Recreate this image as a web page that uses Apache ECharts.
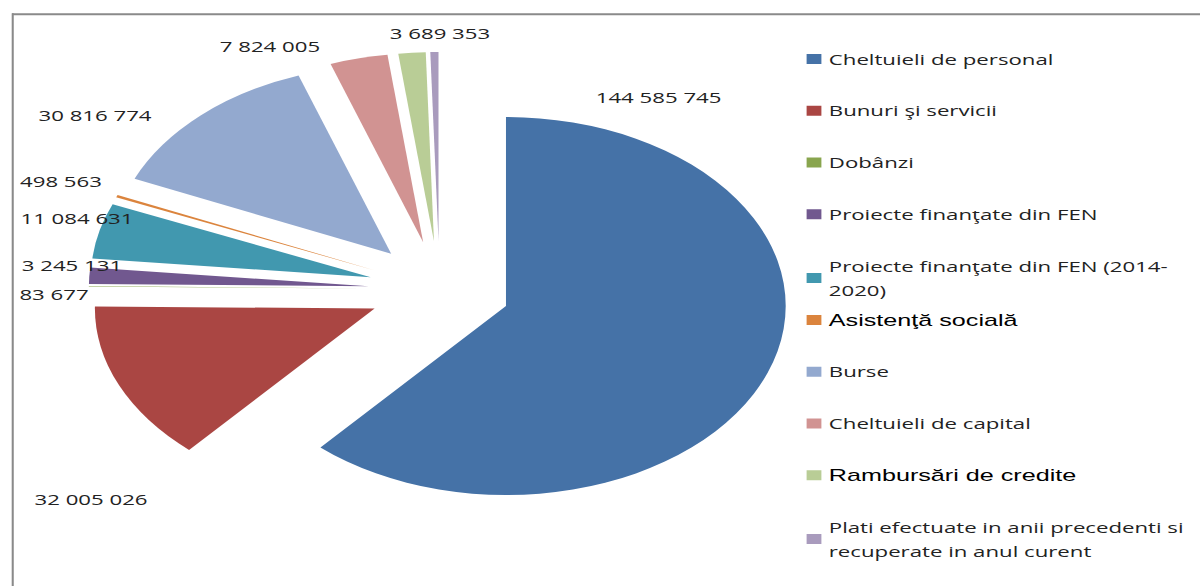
<!DOCTYPE html>
<html>
<head>
<meta charset="utf-8">
<script src="https://cdn.jsdelivr.net/npm/echarts@6/dist/echarts.min.js"></script>
<style>
html,body{margin:0;padding:0;background:#fff;overflow:hidden;width:1200px;height:586px;}
#c{width:811px;height:586px;transform:scaleX(1.48);transform-origin:0 0;}
</style>
</head>
<body>
<div id="c"></div>
<script>
const categories = [
  'Cheltuieli de personal',
  'Bunuri şi servicii',
  'Dobânzi',
  'Proiecte finanţate din FEN',
  'Proiecte finanţate din FEN (2014-2020)',
  'Asistenţă socială',
  'Burse',
  'Cheltuieli de capital',
  'Rambursări de credite',
  'Plati efectuate in anii precedenti si recuperate in anul curent'
];
const values = [144585745, 32005026, 83677, 3245131, 11084631, 498563, 30816774, 7824005, 3689353, 1100000];
const showValueLabel = [true, true, true, true, true, true, true, true, true, false];
const colors = ['#4572A7', '#AA4643', '#89A54E', '#71588F', '#4198AF', '#DB843D', '#93A9CF', '#D19392', '#B9CD96', '#A99BBD'];

// label anchor spots (chart coords, before horizontal stretch)
const labelSpots = [[445, 97], [61.5, 499], [36.5, 294], [48.6, 265], [52, 218], [41.2, 181], [64.2, 115], [182.4, 46], [297.3, 33], null];

function fmt(v) {
  return String(v).replace(/\B(?=(\d{3})+(?!\d))/g, ' ');
}
const legendWrap = {
  'Proiecte finanţate din FEN (2014-2020)': 'Proiecte finanţate din FEN (2014-\n2020)',
  'Plati efectuate in anii precedenti si recuperate in anul curent': 'Plati efectuate in anii precedenti si\nrecuperate in anul curent'
};
const arialItems = ['Asistenţă socială', 'Rambursări de credite'];
function legendFormatter(name) {
  if (arialItems.indexOf(name) >= 0) return '{a|' + name + '}';
  return legendWrap[name] || name;
}
const legendBase = {
  orient: 'vertical',
  left: 545,
  padding: 0,
  itemGap: 27.75,
  itemWidth: 10,
  itemHeight: 10,
  icon: 'rect',
  selectedMode: false,
  formatter: legendFormatter,
  textStyle: {
    fontFamily: 'Open Sans',
    fontSize: 15,
    color: '#222',
    lineHeight: 24,
    rich: {
      a: { fontFamily: 'Liberation Sans', fontSize: 17, color: '#000', lineHeight: 24 }
    }
  }
};

const chart = echarts.init(document.getElementById('c'), null, { renderer: 'svg' });
chart.setOption({
  animation: false,
  color: colors,
  graphic: [
    { type: 'line', shape: { x1: 8.1, y1: 14.3, x2: 811, y2: 14.3 }, style: { stroke: '#8a8a8a', lineWidth: 2 } },
    { type: 'line', shape: { x1: 8.6, y1: 13.3, x2: 8.6, y2: 586 }, style: { stroke: '#8a8a8a', lineWidth: 1.4 } }
  ],
  legend: [
    Object.assign({}, legendBase, { top: 47, data: categories.slice(0, 5) }),
    Object.assign({}, legendBase, { top: 308, data: categories.slice(5) })
  ],
  series: [{
    type: 'pie',
    center: [297, 289],
    radius: 189,
    startAngle: 90,
    clockwise: true,
    selectedMode: 'multiple',
    selectedOffset: 48,
    avoidLabelOverlap: false,
    emphasis: { disabled: true },
    itemStyle: { borderWidth: 0 },
    label: { show: false },
    labelLine: { show: false },
    data: categories.map(function (n, i) {
      return { name: n, value: values[i], selected: true };
    })
  }, {
    // value labels (sectors transparent)
    type: 'pie',
    center: [297, 289],
    radius: 189,
    startAngle: 90,
    clockwise: true,
    silent: true,
    avoidLabelOverlap: false,
    emphasis: { disabled: true },
    itemStyle: { color: 'rgba(0,0,0,0)', borderWidth: 0 },
    label: {
      show: true,
      position: 'outside',
      fontFamily: 'Open Sans',
      fontSize: 15,
      color: '#222',
      formatter: function (p) { return fmt(p.value); }
    },
    labelLine: { show: false },
    labelLayout: function (params) {
      const s = labelSpots[params.dataIndex];
      if (!s) return {};
      return { x: s[0], y: s[1], align: 'center', verticalAlign: 'middle' };
    },
    data: categories.map(function (n, i) {
      return { name: n, value: values[i], label: { show: showValueLabel[i] } };
    })
  }]
});
</script>
</body>
</html>
